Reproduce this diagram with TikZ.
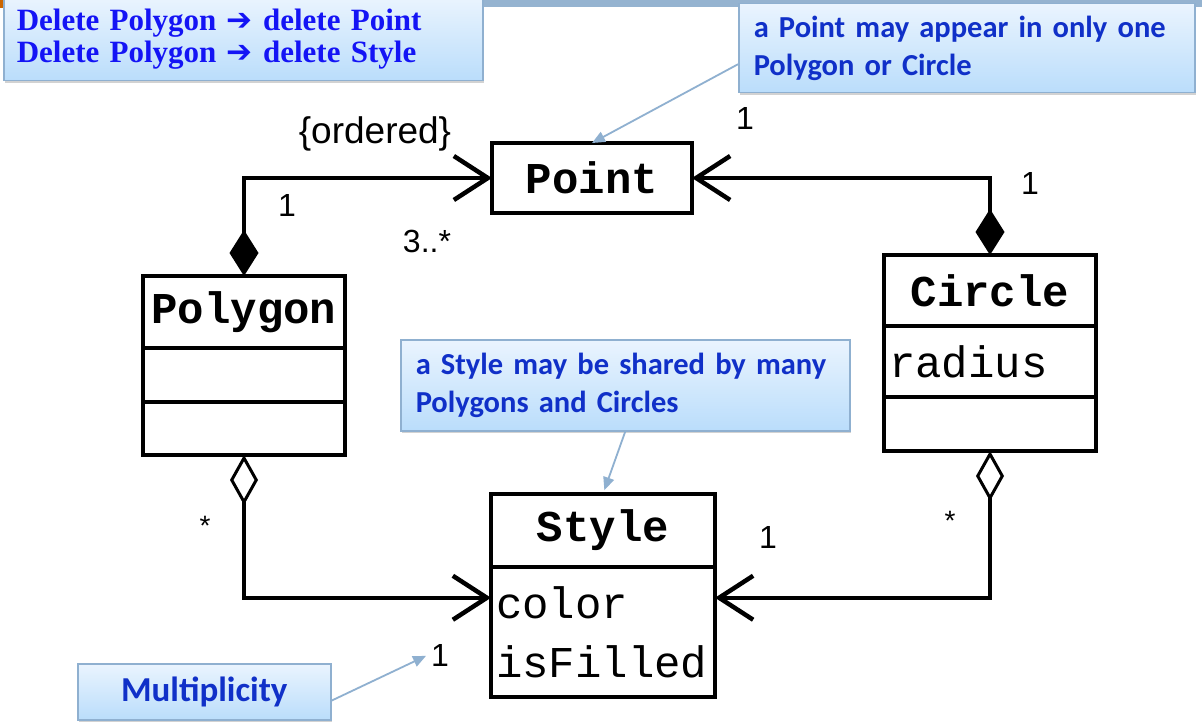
\documentclass[tikz,border=0pt]{standalone}
\usepackage{fontspec}
\setmainfont{Liberation Sans}
\newfontfamily\clsfont{Liberation Mono}
\newfontfamily\notefont{Carlito}
\newfontfamily\delfont{Liberation Serif}
\newfontfamily\arrfont{DejaVu Sans}
\usetikzlibrary{arrows.meta,positioning,shadows}
\definecolor{noteblue}{RGB}{16,48,200}
\definecolor{delblue}{RGB}{20,20,245}
\definecolor{notetop}{RGB}{234,244,254}
\definecolor{notebot}{RGB}{186,221,251}
\definecolor{noteline}{RGB}{143,176,208}
\definecolor{barblue}{RGB}{149,179,208}

\begin{document}
\begin{tikzpicture}[x=1pt,y=-1pt,line width=4.5pt,
 cls/.style={draw,outer sep=0pt,inner sep=0pt,font=\clsfont\bfseries\fontsize{44}{50}\selectfont},
 comp/.style={draw,outer sep=0pt,inner xsep=5pt,inner ysep=0pt,align=left,font=\clsfont\fontsize{44}{59}\selectfont},
 note/.style={draw=noteline,line width=1.5pt,top color=notetop,bottom color=notebot,
  drop shadow={shadow xshift=1.5pt,shadow yshift=-2.5pt,opacity=.35},text=noteblue,
  font=\notefont\bfseries\fontsize{30.5}{38}\selectfont,align=left,inner xsep=15pt,anchor=north west},
 mult/.style={font=\fontsize{32}{34}\selectfont,inner sep=1pt},
 owns/.style={{Diamond[length=46pt,width=29pt]}-{Straight Barb[length=34pt,width=44pt]}},
 shares/.style={{Diamond[open,fill=white,length=50pt,width=28pt,line width=3pt]}-{Straight Barb[length=34pt,width=44pt]}},
 tipnote/.style={draw=noteline,line width=1.8pt,-{Triangle[length=13pt,width=11pt]}}]
\fill[white] (0,0) rectangle (1202,727);
\useasboundingbox (0,0) rectangle (1202,727);
\fill[barblue] (0,0) rectangle (1202,7);
\fill[orange!80!black] (0,0) rectangle (3,8);
% classes
\node[cls,minimum width=200pt,minimum height=70pt] (point) at (592,178) {Point};
\node[cls,minimum width=202pt,minimum height=72pt] (poly) at (244,312) {Polygon};
\node[comp,below=0pt of poly,minimum width=202pt,minimum height=54pt] (poly2) {};
\node[comp,below=0pt of poly2,minimum width=202pt,minimum height=53pt] (poly3) {};
\node[cls,minimum width=212pt,minimum height=71pt] (circ) at (990,290.5) {Circle};
\node[comp,below=0pt of circ,text width=202pt,minimum height=71pt] (circ2) {radius};
\node[comp,below=0pt of circ2,minimum width=212pt,minimum height=54pt] (circ3) {};
\node[cls,minimum width=224pt,minimum height=73pt] (sty) at (603,530.5) {Style};
\node[comp,below=0pt of sty,text width=214pt,minimum height=130pt] (sty2) {color\\isFilled};
% associations
\draw[owns] (poly.north) |- (point.west);
\draw[owns] (circ.north) |- (point.east);
\draw[shares] (poly3.south) |- (sty2.163);
\draw[shares] (circ3.south) |- (sty2.17);
% multiplicities
\node[mult,font=\fontsize{37}{39}\selectfont] (ord) at (375,134) {\{ordered\}};
\node[mult] (m1) at (287,205) {1};
\node[mult] (m2) at (427,241) {3..*};
\node[mult] (m3) at (745,118) {1};
\node[mult] (m4) at (1030,183) {1};
\node[mult,font=\fontsize{28}{30}\selectfont] (m5) at (205,526) {*};
\node[mult,font=\fontsize{28}{30}\selectfont] (m6) at (950,521) {*};
\node[mult] (m7) at (768,537) {1};
\node[mult] (m8) at (440,655) {1};
% notes
\node[note,minimum width=479pt,minimum height=84pt,text width=453pt,inner xsep=13pt,text=delblue,
 font=\delfont\bfseries\fontsize{31}{32}\selectfont] (n1) at (3,-4)
 {Delete Polygon {\arrfont ➔} delete Point\\Delete Polygon {\arrfont ➔} delete Style};
\node[note,minimum width=456pt,minimum height=89pt,text width=426pt] (n2) at (738,3) {a Point may appear in only one\\Polygon or Circle};
\node[note,minimum width=449pt,minimum height=91pt,text width=419pt] (n3) at (400,339) {a Style may be shared by many\\Polygons and Circles};
\node[note,minimum width=253pt,minimum height=56pt,font=\notefont\bfseries\fontsize{35}{38}\selectfont] (n4) at (77,663) {Multiplicity};
\draw[tipnote] (n2.184) -- (point.north);
\draw[tipnote,shorten >=4pt] (n3.south) -- (sty.north);
\draw[tipnote,shorten >=2pt] (n4.-4) -- (m8.west);
\end{tikzpicture}
\end{document}
